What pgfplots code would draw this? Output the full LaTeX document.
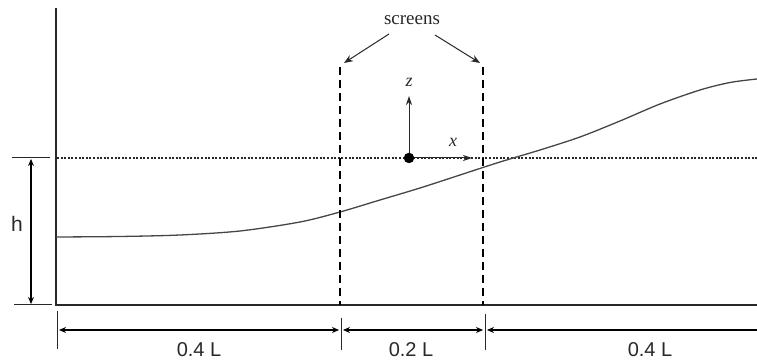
\documentclass[border=0pt]{standalone}
\usepackage{pgfplots}
\pgfplotsset{compat=1.18}
\usepackage{fontspec}
\setmainfont{Liberation Sans}
\newfontfamily\seriff{Liberation Serif}
\usetikzlibrary{arrows.meta}
\definecolor{ln}{RGB}{40,40,40}
\definecolor{cv}{RGB}{70,70,70}
\begin{document}
\begin{tikzpicture}
\begin{axis}[
  scale only axis, width=757pt, height=363pt,
  xmin=0, xmax=757, ymin=0, ymax=363,
  hide axis, clip=false,
]
% frame lines
\addplot[ln, line width=2pt] coordinates {(56,355) (56,58) (757,58)};
% free surface
\addplot[ln, line width=2pt, dash pattern=on 2pt off 1.6pt] coordinates {(57,205) (757,205)};
% bed profile
\addplot[cv, line width=1.3pt, smooth, tension=0.5] coordinates {
(56,126) (120,126.5) (180,128) (240,132) (300,141) (340,151) (380,163) (420,175)
(460,188) (500,201) (540,213) (580,226) (620,242) (660,259) (700,273) (730,280.5) (757,284)};
% screens
\addplot[black, line width=2pt, dash pattern=on 8pt off 5pt] coordinates {(340,296) (340,58)};
\addplot[black, line width=2.5pt, dash pattern=on 8pt off 5pt] coordinates {(483,296) (483,58)};
% screens arrows
\addplot[ln, line width=1pt, -{Stealth[length=9pt,width=7pt]}] coordinates {(389,329) (344,300)};
\addplot[ln, line width=1pt, -{Stealth[length=9pt,width=7pt]}] coordinates {(435,328) (480,300)};
\node[font=\seriff\fontsize{19}{19}\selectfont, text=ln, anchor=base] at (axis cs:412,338) {screens};
% local axes
\addplot[ln, line width=1pt, -{Stealth[length=9pt,width=6pt]}] coordinates {(409,205) (409,267)};
\addplot[ln, line width=1pt, -{Stealth[length=9pt,width=6pt]}] coordinates {(409,205) (472,205)};
\addplot[black, only marks, mark=*, mark size=5pt] coordinates {(409,205)};
\node[font=\seriff\itshape\fontsize{18}{18}\selectfont, text=ln, anchor=base] at (axis cs:409,276) {z};
\node[font=\seriff\itshape\fontsize{18}{18}\selectfont, text=ln, anchor=base] at (axis cs:453,216) {x};
% h dimension
\addplot[ln, line width=1pt] coordinates {(12,205) (50,205)};
\addplot[ln, line width=1pt] coordinates {(14,58) (52,58)};
\addplot[black, line width=1.8pt, {Stealth[length=7pt,width=6pt]}-{Stealth[length=7pt,width=6pt]}] coordinates {(31,204) (31,59)};
\node[font=\fontsize{21}{21}\selectfont, text=ln, anchor=base] at (axis cs:17,131) {h};
% bottom dimensions
\addplot[ln, line width=1pt] coordinates {(57,52) (57,14)};
\addplot[ln, line width=1pt] coordinates {(341,45) (341,13)};
\addplot[ln, line width=1pt] coordinates {(485,49) (485,13)};
\addplot[black, line width=1.8pt, {Stealth[length=7pt,width=6pt]}-{Stealth[length=7pt,width=6pt]}] coordinates {(59,33) (339,33)};
\addplot[black, line width=1.8pt, {Stealth[length=7pt,width=6pt]}-{Stealth[length=7pt,width=6pt]}] coordinates {(343,33) (483,33)};
\addplot[black, line width=1.8pt, {Stealth[length=7pt,width=6pt]}-] coordinates {(487,33) (757,33)};
\node[font=\fontsize{20}{20}\selectfont, text=ln, anchor=base] at (axis cs:199,6) {0.4 L};
\node[font=\fontsize{20}{20}\selectfont, text=ln, anchor=base] at (axis cs:411,6) {0.2 L};
\node[font=\fontsize{20}{20}\selectfont, text=ln, anchor=base] at (axis cs:650,6) {0.4 L};
\end{axis}
\pgfresetboundingbox
\useasboundingbox (current axis.south west) rectangle (current axis.north east);
\end{tikzpicture}
\end{document}
